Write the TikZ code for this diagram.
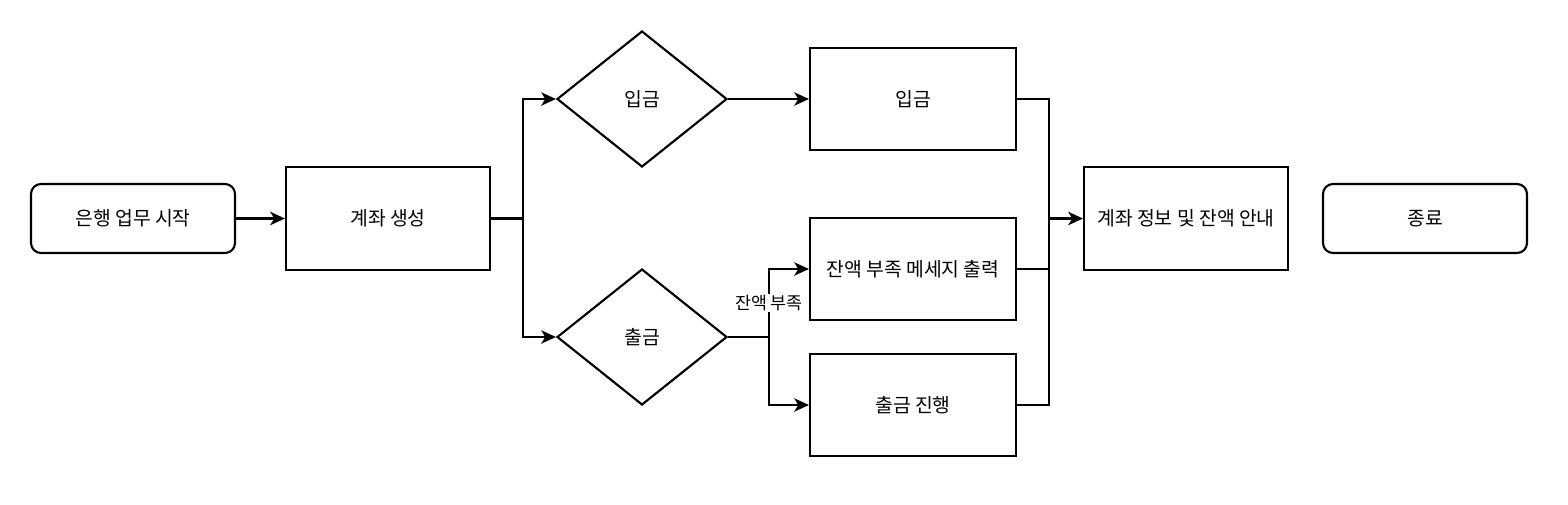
\documentclass[tikz,border=0pt]{standalone}
\usepackage{fontspec}
\setmainfont{Noto Sans CJK KR}
\usetikzlibrary{shapes.geometric,arrows.meta}

\begin{document}
\begin{tikzpicture}[x=0.75pt,y=-0.75pt,line width=1.6pt,
    every node/.style={font=\fontsize{14.5}{17}\selectfont},
    term/.style={draw,rounded corners=7.5pt,minimum width=153pt,minimum height=51.75pt,inner sep=0pt},
    procbox/.style={draw,minimum width=153pt,minimum height=77.25pt,inner sep=0pt},
    sidebox/.style={draw,minimum width=154.5pt,minimum height=76.5pt,inner sep=0pt},
    choice/.style={draw,diamond,minimum width=127.5pt,minimum height=102pt,inner sep=0pt},
    arr/.style={-{Stealth[length=11pt,width=10pt,inset=3pt]}},
    lbl/.style={fill=white,inner sep=1pt,font=\fontsize{13}{15}\selectfont}]
            % Canvas
            \useasboundingbox (0,0) rectangle (1568,504);

            % Start and first step
            \node[term] (start) at (133,218.5) {은행 업무 시작};
            \node[procbox] (create) at (388,218.5) {계좌 생성};

            % Decisions
            \node[choice] (qdep) at (642,99) {입금};
            \node[choice] (qwd) at (642,337) {출금};

            % Actions
            \node[sidebox] (deposit) at (913,99) {입금};
            \node[sidebox] (lack) at (913,269) {잔액 부족 메세지 출력};
            \node[sidebox] (withdraw) at (913,405) {출금 진행};

            % Result and end
            \node[procbox] (info) at (1186,218.5) {계좌 정보 및 잔액 안내};
            \node[term] (finish) at (1425,218.5) {종료};

            % Branch points
            \coordinate (split) at (523,218.5);
            \coordinate (wsplit) at (769,337);
            \coordinate (merge) at (1049,218.5);

            % Connectors
            \draw[arr] (start) -- (create);
            \draw (create.east) -- (split);
            \draw[arr] (split) |- (qdep.west);
            \draw[arr] (split) |- (qwd.west);
            \draw[arr] (qdep.east) -- (deposit.west);
            \draw (qwd.east) -- (wsplit);
            \draw[arr] (wsplit) |- node[pos=0.25,lbl] {잔액 부족} (lack.west);
            \draw[arr] (wsplit) |- (withdraw.west);
            \draw (deposit.east) -| (merge);
            \draw (lack.east) -| (merge);
            \draw (withdraw.east) -| (merge);
            \draw[arr] (merge) -- (info.west);
\end{tikzpicture}
\end{document}
